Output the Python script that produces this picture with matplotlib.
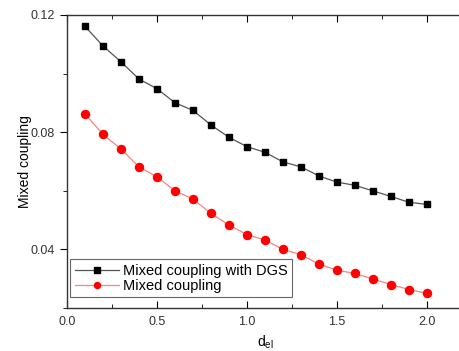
import numpy as np
import matplotlib.pyplot as plt
from matplotlib.ticker import MultipleLocator

plt.rcParams['font.family'] = ['Liberation Sans', 'DejaVu Sans']
plt.rcParams['mathtext.fontset'] = 'custom'
plt.rcParams['mathtext.rm'] = 'Liberation Sans'
plt.rcParams['mathtext.it'] = 'Liberation Sans'

d_el = [0.1, 0.2, 0.3, 0.4, 0.5, 0.6, 0.7, 0.8, 0.9, 1.0,
        1.1, 1.2, 1.3, 1.4, 1.5, 1.6, 1.7, 1.8, 1.9, 2.0]
with_dgs = [0.1161, 0.1094, 0.1040, 0.0981, 0.0948, 0.0900, 0.0874, 0.0824, 0.0782, 0.0750,
            0.0731, 0.0698, 0.0681, 0.0650, 0.0629, 0.0618, 0.0599, 0.0580, 0.0560, 0.0553]
mixed = [0.0862, 0.0792, 0.0742, 0.0681, 0.0647, 0.0599, 0.0571, 0.0522, 0.0482, 0.0450,
         0.0431, 0.0399, 0.0381, 0.0349, 0.0328, 0.0317, 0.0298, 0.0279, 0.0262, 0.0249]

fig = plt.figure(figsize=(4.6, 3.51), dpi=100)
ax = fig.add_axes([0.1457, 0.1234, 0.8608, 0.8339])

ax.plot(d_el, with_dgs, color='#555555', linewidth=0.9, marker='s', markersize=5,
        markerfacecolor='black', markeredgecolor='black', label='Mixed coupling with DGS')
ax.plot(d_el, mixed, color='#ff8080', linewidth=0.9, marker='o', markersize=5.8,
        markerfacecolor='red', markeredgecolor='red', label='Mixed coupling')

ax.set_xlim(0, 2.2)
ax.set_ylim(0.02, 0.12)
ax.xaxis.set_minor_locator(MultipleLocator(0.25))
ax.yaxis.set_minor_locator(MultipleLocator(0.02))
ax.set_yticks([0.04, 0.08, 0.12])
ax.set_yticklabels(['0.04', '0.08', '0.12'])
ax.set_xticks([0.0, 0.5, 1.0, 1.5, 2.0])
ax.set_xticklabels(['0.0', '0.5', '1.0', '1.5', '2.0'])

ax.tick_params(axis='x', which='both', direction='in', top=True, labelsize=9, pad=6,
               labelcolor='#333333')
ax.tick_params(axis='x', which='major', length=5)
ax.tick_params(axis='x', which='minor', length=3)
ax.tick_params(axis='y', which='both', direction='out', labelsize=9, labelcolor='#333333')
ax.tick_params(axis='y', which='major', length=5)
ax.tick_params(axis='y', which='minor', length=3)
for s in ax.spines.values():
    s.set_linewidth(1.0)
    s.set_color('#333333')

ax.set_ylabel('Mixed coupling', fontsize=10, labelpad=-1)
ax.set_xlabel(r'd$_{\mathrm{el}}$', fontsize=10, labelpad=4)

leg = ax.legend(loc='lower left', bbox_to_anchor=(0.005, 0.03), fontsize=10.5, fancybox=False,
                framealpha=1, edgecolor='#666666', borderpad=0.3, labelspacing=0.1,
                handlelength=3.0, handletextpad=0.3, markerscale=0.75, borderaxespad=0.1)
leg.get_frame().set_linewidth(0.8)

fig.savefig('out.png', dpi=100)
